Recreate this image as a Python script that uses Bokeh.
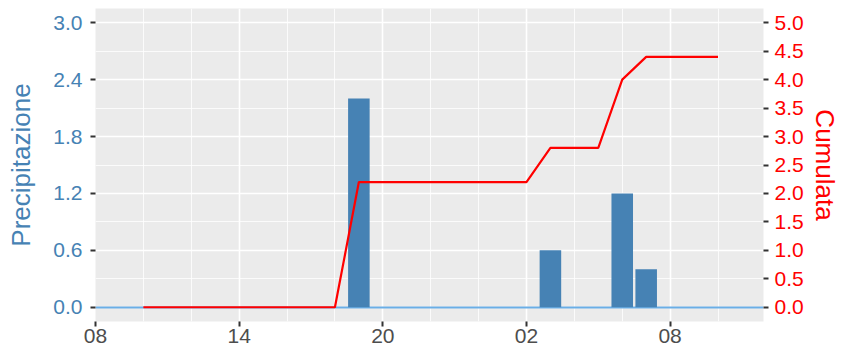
from bokeh.plotting import figure
from bokeh.models import Range1d, LinearAxis, FixedTicker, PrintfTickFormatter
from bokeh.embed import file_html
from bokeh.resources import INLINE

# ---- data (hours counted from 00:00 of the first day) ----
hours = [10, 11, 12, 13, 14, 15, 16, 17, 18, 19, 20, 21, 22,
         23, 24, 25, 26, 27, 28, 29, 30, 31, 32, 33, 34]
precipitazione = [0, 0, 0, 0, 0, 0, 0, 0, 0, 2.2, 0, 0, 0,
                  0, 0, 0, 0, 0.6, 0, 0, 1.2, 0.4, 0, 0, 0]
cumulata = [0, 0, 0, 0, 0, 0, 0, 0, 0, 2.2, 2.2, 2.2, 2.2,
            2.2, 2.2, 2.2, 2.2, 2.8, 2.8, 2.8, 4.0, 4.4, 4.4, 4.4, 4.4]
zero_line = [0]

x_ticks = [8, 14, 20, 26, 32]
x_tick_labels = ["08", "14", "20", "02", "08"]
x_minor = [10, 12, 16, 18, 22, 24, 28, 30, 34]
y_ticks = [0.0, 0.6, 1.2, 1.8, 2.4, 3.0]
y_minor = [0.3, 0.9, 1.5, 2.1, 2.7]
cum_ticks = [0.0, 0.5, 1.0, 1.5, 2.0, 2.5, 3.0, 3.5, 4.0, 4.5, 5.0]
x_limits = (8.0, 35.9)
y_limits = (-0.15, 3.15)
cum_limits = (-0.25, 5.25)

FONT = "Liberation Sans"
TICK_SIZE = "21px"
TITLE_SIZE = "26px"
BLUE = "steelblue"
RED = "#FF0000"

p = figure(width=842, height=345, output_backend="svg", toolbar_location=None,
           x_range=Range1d(*x_limits), y_range=Range1d(*y_limits),
           min_border_left=95, min_border_right=0, min_border_top=8,
           min_border_bottom=0)
p.background_fill_color = "#EBEBEB"
p.border_fill_color = "white"
p.outline_line_color = None

p.extra_y_ranges = {"cum": Range1d(*cum_limits)}

# x axis
p.xaxis.ticker = FixedTicker(ticks=x_ticks, minor_ticks=x_minor)
p.xaxis.major_label_overrides = {t: l for t, l in zip(x_ticks, x_tick_labels)}
p.xaxis.major_label_text_color = "#4D4D4D"

# left axis
p.yaxis.ticker = FixedTicker(ticks=y_ticks, minor_ticks=y_minor)
p.yaxis.formatter = PrintfTickFormatter(format="%.1f")
p.yaxis.axis_label = "Precipitazione"
p.yaxis.axis_label_text_color = BLUE
p.yaxis.major_label_text_color = BLUE

# right axis
ax2 = LinearAxis(y_range_name="cum", axis_label="Cumulata",
                 ticker=FixedTicker(ticks=cum_ticks),
                 formatter=PrintfTickFormatter(format="%.1f"))
ax2.axis_label_text_color = RED
ax2.major_label_text_color = RED
p.add_layout(ax2, "right")

for ax in [p.xaxis[0], p.yaxis[0], ax2]:
    ax.axis_line_color = None
    ax.major_tick_line_color = "#333333"
    ax.major_tick_line_width = 2
    ax.major_tick_out = 5
    ax.major_tick_in = 0
    ax.minor_tick_line_color = None
    ax.major_label_text_font = FONT
    ax.major_label_text_font_size = TICK_SIZE
    ax.axis_label_text_font = FONT
    ax.axis_label_text_font_size = TITLE_SIZE
    ax.axis_label_text_font_style = "normal"

p.xaxis.major_label_standoff = 2
p.yaxis.major_label_standoff = 8
p.yaxis.axis_label_standoff = 14
ax2.major_label_standoff = 6
ax2.axis_label_standoff = 3

# grids
for g in [p.xgrid[0], p.ygrid[0]]:
    g.grid_line_color = "white"
    g.grid_line_width = 1.6
    g.minor_grid_line_color = "white"
    g.minor_grid_line_width = 0.8
p.ygrid.ticker = FixedTicker(ticks=y_ticks, minor_ticks=y_minor)

# glyphs
p.hspan(y=zero_line, line_color="#6AAEE6", line_width=2.2)
p.vbar(x=hours, top=precipitazione, bottom=0, width=0.9,
       fill_color=BLUE, line_color=None)
p.line(hours, cumulata, y_range_name="cum", line_color=RED, line_width=2.2)

open("out.html", "w").write(file_html(p, INLINE))
